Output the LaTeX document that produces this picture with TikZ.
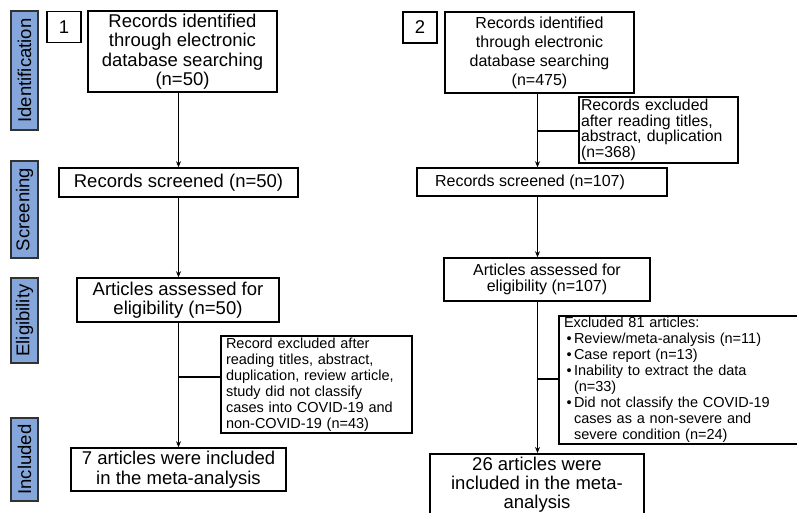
\documentclass[tikz,border=0pt]{standalone}
\usepackage{fontspec}
\setmainfont{Liberation Sans}
\usetikzlibrary{arrows.meta}
\definecolor{stageblue}{RGB}{132,166,218}
\definecolor{stageedge}{RGB}{50,50,50}
\newcommand\bitem{\makebox[10pt][l]{\hspace{2.5pt}\textbullet}}
\newcommand\bcont{\hspace*{10pt}}
\tikzset{
  box/.style={draw=black, line width=1.5pt, inner sep=0pt, align=center},
  bigtext/.style={font=\fontsize{18.5}{19.5}\selectfont},
  midtext/.style={font=\fontsize{16}{19}\selectfont},
  smalltext/.style={font=\fontsize{14.5}{16}\selectfont},
  stage/.style={draw=stageedge, fill=stageblue, line width=1.3pt, rotate=90,
    inner sep=0pt, minimum height=27pt, font=\fontsize{18.5}{19.5}\selectfont},
  arr/.style={line width=1.4pt, -{Stealth[length=6pt,width=5pt]}},
  conn/.style={line width=1.4pt}
}
\begin{document}
\begin{tikzpicture}[x=1pt,y=-1pt]
\path[use as bounding box] (0,0) rectangle (797,513);
\clip (0,0) rectangle (797,513);

% stage labels
\node[stage, minimum width=119pt] (sId) at (24.5,70.5) {Identification};
\node[stage, minimum width=97pt] (sSc) at (24.5,209.5) {Screening};
\node[stage, minimum width=85pt] (sEl) at (24.5,320.5) {Eligibility};
\node[stage, minimum width=83pt] (sIn) at (24.5,459.5) {Included};

% left flow
\node[box, bigtext, minimum width=34pt, minimum height=31pt] (n1) at (64,27) {1};
\node[box, bigtext, minimum width=189pt, minimum height=81pt] (L1) at (182.5,51.5)
  {Records identified\\through electronic\\database searching\\(n=50)};
\node[box, bigtext, minimum width=239pt, minimum height=29pt] (L2) at (178.5,182.5)
  {Records screened (n=50)};
\node[box, bigtext, minimum width=202pt, minimum height=44pt] (L3) at (178,300)
  {Articles assessed for\\eligibility (n=50)};
\node[box, smalltext, minimum width=191pt, minimum height=97pt, align=left, text width=181pt] (L4) at (316.5,384.5)
  {Record excluded after\\reading titles, abstract,\\duplication, review article,\\study did not classify\\cases into COVID-19 and\\non-COVID-19 (n=43)};
\node[box, bigtext, minimum width=215pt, minimum height=43pt] (L5) at (178.5,469.5)
  {7 articles were included\\in the meta-analysis};

\draw[arr] (L1.south -| L2.north) -- (L2.north);
\draw[arr] (L2.south) -- (L2.south |- L3.north);
\draw[arr] (L3.south -| L2.south) -- (L2.south |- L5.north);
\coordinate (bL) at (178.5,377);
\draw[conn] (bL) -- (bL -| L4.west);

% right flow
\node[box, bigtext, minimum width=34pt, minimum height=31pt] (n2) at (420,27.5) {2};
\node[box, midtext, minimum width=189pt, minimum height=81pt] (R1) at (539.5,52.5)
  {Records identified\\through electronic\\database searching\\(n=475)};
\node[box, font=\fontsize{15.8}{15.7}\selectfont, minimum width=159pt, minimum height=66pt, align=left, text width=155pt] (R1x) at (658.5,130)
  {Records excluded\\after reading titles,\\abstract, duplication\\(n=368)};
\node[box, midtext, minimum width=250pt, minimum height=28pt] (R2) at (542,182)
  {Records screened (n=107)\hspace*{24pt}};
\node[box, font=\fontsize{16}{15.7}\selectfont, minimum width=206pt, minimum height=43pt] (R3) at (547,279.5)
  {Articles assessed for\\eligibility (n=107)};
\node[box, smalltext, minimum width=250pt, minimum height=128pt, align=left, text width=240pt] (R4) at (684,380)
  {Excluded 81 articles:\\
   \bitem Review/meta-analysis (n=11)\\
   \bitem Case report (n=13)\\
   \bitem Inability to extract the data\\
   \bcont (n=33)\\
   \bitem Did not classify the COVID-19\\
   \bcont cases as a non-severe and\\
   \bcont severe condition (n=24)};
\node[box, font=\fontsize{18.5}{19}\selectfont, minimum width=214pt, minimum height=62pt, anchor=north] (R5) at (537,453)
  {26 articles were\\included in the meta-\\analysis};

\coordinate (rx) at (537.5,0);
\draw[arr] (rx |- R1.south) -- (rx |- R2.north);
\coordinate (bR1) at (537.5,131);
\draw[conn] (bR1) -- (bR1 -| R1x.west);
\draw[arr] (rx |- R2.south) -- (rx |- R3.north);
\draw[arr] (rx |- R3.south) -- (rx |- R5.north);
\coordinate (bR2) at (537.5,379);
\draw[conn] (bR2) -- (bR2 -| R4.west);
\end{tikzpicture}
\end{document}
